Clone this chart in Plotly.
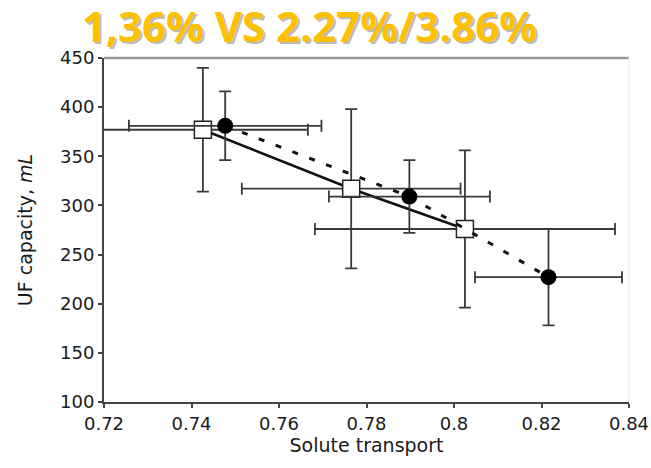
import plotly.graph_objects as go

# Data
sq_x = [0.7426, 0.7765, 0.8025]
sq_y = [377, 317, 276]
sq_xerr = [0.024, 0.025, 0.0343]
sq_yerr = [63, 81, 80]

ci_x = [0.7477, 0.7898, 0.8216]
ci_y = [381, 309, 227]
ci_xerr = [0.022, 0.0184, 0.0168]
ci_yerr = [35, 37, 49]

x_ticks = [0.72, 0.74, 0.76, 0.78, 0.80, 0.82, 0.84]
x_labels = ["0.72", "0.74", "0.76", "0.78", "0.8", "0.82", "0.84"]
y_ticks = [100, 150, 200, 250, 300, 350, 400, 450]

title_text = "1,36% VS 2.27%/3.86%"

ebar = dict(color="#3a3a3a", thickness=1.8, width=6)

fig = go.Figure()
fig.add_trace(go.Scatter(
    x=sq_x, y=sq_y, mode="lines+markers",
    line=dict(color="#111111", width=2.5),
    marker=dict(symbol="square", size=17, color="white",
                line=dict(color="#222222", width=1.5)),
    error_x=dict(type="data", array=sq_xerr, visible=True, **ebar),
    error_y=dict(type="data", array=sq_yerr, visible=True, **ebar),
    cliponaxis=False, showlegend=False))
fig.add_trace(go.Scatter(
    x=ci_x, y=ci_y, mode="lines+markers",
    line=dict(color="#111111", width=3, dash="6px,12px"),
    marker=dict(symbol="circle", size=16, color="black"),
    error_x=dict(type="data", array=ci_xerr, visible=True, **ebar),
    error_y=dict(type="data", array=ci_yerr, visible=True, **ebar),
    cliponaxis=False, showlegend=False))

axis_font = dict(family="DejaVu Sans", size=18, color="#1a1a1a")
title_font = dict(family="DejaVu Sans", size=19, color="#1a1a1a")

fig.update_layout(
    width=651, height=468,
    margin=dict(l=104, r=22, t=58, b=66),
    paper_bgcolor="white", plot_bgcolor="white",
    xaxis=dict(range=[0.72, 0.84], tickvals=x_ticks, ticktext=x_labels,
               showgrid=False, zeroline=False, showline=True, linecolor="#444444",
               linewidth=2, ticks="outside", ticklen=4, tickwidth=1.5, tickcolor="#444444",
               tickfont=axis_font, automargin=False,
               title=dict(text="Solute transport", font=title_font, standoff=0)),
    yaxis=dict(range=[100, 450], tickvals=y_ticks,
               showgrid=False, zeroline=False, showline=True, linecolor="#444444",
               linewidth=2, ticks="outside", ticklen=4, tickwidth=1.5, tickcolor="#444444",
               tickfont=axis_font, automargin=False,
               title=dict(text="UF capacity, <i>mL</i>", font=title_font, standoff=22)),
    shapes=[
        dict(type="line", xref="paper", yref="paper", x0=0, x1=1, y0=1, y1=1,
             line=dict(color="#9a9a9a", width=2.5)),
        dict(type="line", xref="paper", yref="paper", x0=1, x1=1, y0=0, y1=1,
             line=dict(color="#eeeeee", width=1.5)),
    ],
    annotations=[
        dict(text="<b>" + title_text + "</b>", xref="paper", yref="paper",
             x=0.392, y=1, xanchor="center", yanchor="bottom", yshift=1, xshift=2,
             borderpad=0,
             showarrow=False, font=dict(family="Open Sans", size=42, color="rgba(120,120,120,0.5)")),
        dict(text="<b>" + title_text + "</b>", xref="paper", yref="paper",
             x=0.392, y=1, xanchor="center", yanchor="bottom", yshift=3,
             borderpad=0,
             showarrow=False, font=dict(family="Open Sans", size=42, color="#FFC000")),
    ],
)

fig.write_html("out.html",
               config={"displayModeBar": False},
               post_script="document.body.style.margin='0';document.body.style.overflow='hidden';")
